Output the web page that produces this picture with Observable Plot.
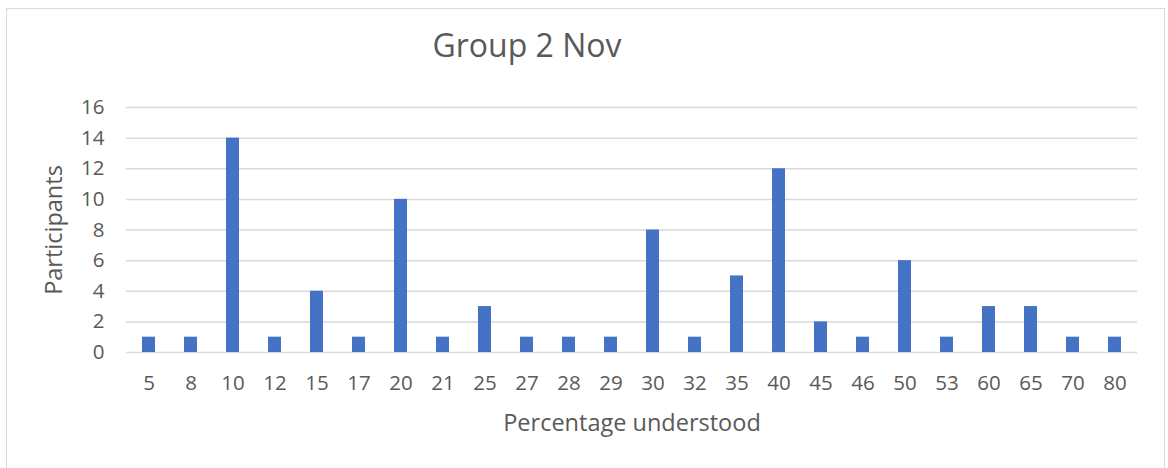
<!DOCTYPE html>
<html><head><meta charset="utf-8">
<script src="https://cdn.jsdelivr.net/npm/d3@7"></script>
<script src="https://cdn.jsdelivr.net/npm/@observablehq/plot@0.6"></script>
<style>
body{margin:0;background:#fff;font-family:"Open Sans",sans-serif;}
#wrap{position:relative;width:1168px;height:468px;overflow:hidden;}
#border{position:absolute;left:6px;top:8px;width:1159px;height:480px;border:1.5px solid #d9d9d9;box-sizing:border-box;}
#title{position:absolute;left:0;width:1054px;top:23px;text-align:center;font-size:32px;color:#595959;}
#chart{position:absolute;left:0;top:0;}
#chart svg g[aria-label="x-axis label"], #chart svg g[aria-label="y-axis label"]{font-size:23.5px !important;}
</style></head>
<body><div id="wrap"><div id="border"></div><div id="title">Group 2 Nov</div><div id="chart"></div></div>
<script>
const categories = ["5","8","10","12","15","17","20","21","25","27","28","29","30","32","35","40","45","46","50","53","60","65","70","80"];
const participants = [1,1,14,1,4,1,10,1,3,1,1,1,8,1,5,12,2,1,6,1,3,3,1,1];
const yTicks = [0,2,4,6,8,10,12,14,16];
const data = categories.map((c,i)=>({cat:c, v:participants[i]}));
const chart = Plot.plot({
  width:1168, height:468,
  marginLeft:126, marginRight:31, marginTop:107, marginBottom:116,
  style:{fontFamily:"Open Sans, sans-serif", fontSize:"16px", color:"#595959", background:"transparent"},
  x:{domain:categories, paddingInner:0.69, paddingOuter:0.345},
  y:{domain:[0,16]},
  marks:[
    Plot.gridY(yTicks,{stroke:"#d9d9d9", strokeOpacity:1, strokeWidth:1.5}),
    Plot.barY(data,{x:"cat", y:"v", fill:"#4472C4"}),
    Plot.axisX({tickSize:0, tickPadding:23, fontSize:20.5, fill:"#595959", label:"Percentage understood", labelAnchor:"center", labelArrow:"none", labelOffset:78}),
    Plot.axisY(yTicks,{tickSize:0, tickPadding:22, fontSize:20.5, fill:"#595959", label:"Participants", labelAnchor:"center", labelArrow:"none", labelOffset:81})
  ]
});
document.getElementById("chart").appendChild(chart);
</script></body></html>
